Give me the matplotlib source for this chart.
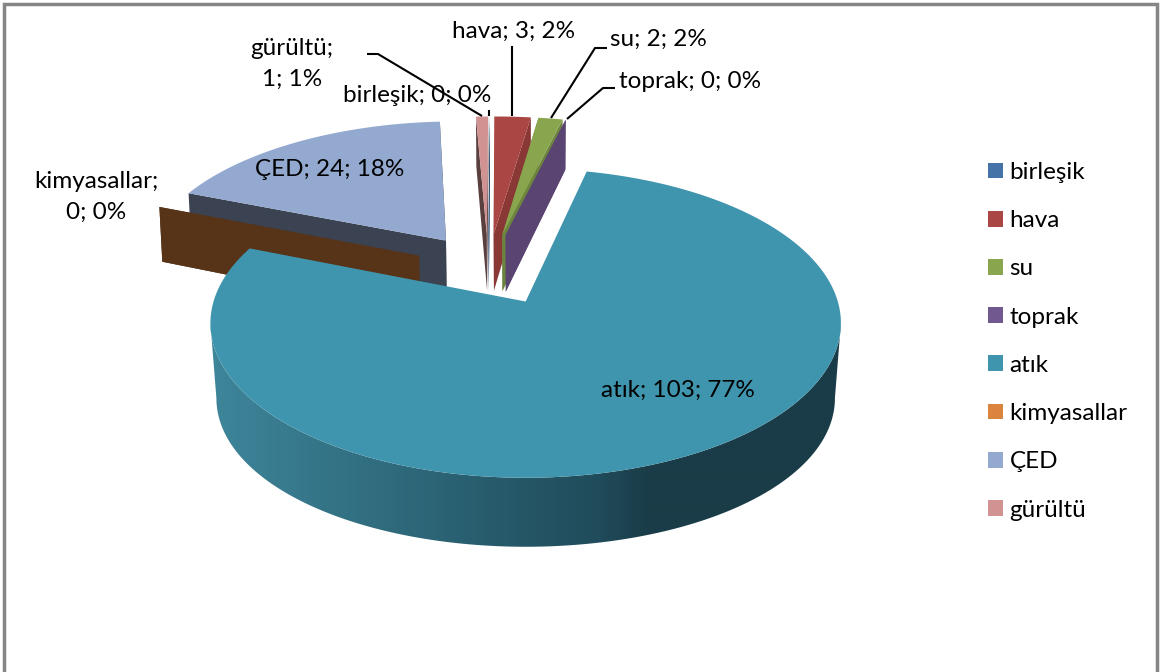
import matplotlib
matplotlib.use("Agg")
import matplotlib.pyplot as plt
from matplotlib.patches import Patch, Polygon
import numpy as np

categories = ["birleşik", "hava", "su", "toprak", "atık", "kimyasallar", "ÇED", "gürültü"]
values = [0, 3, 2, 0, 103, 0, 24, 1]

face_colors = ["#4572a7", "#aa4643", "#89a54e", "#71588f", "#4095ae", "#db843d", "#93a9cf", "#d19392"]
wall_colors = ["#2c4a6e", "#8a3836", "#6d843e", "#5a4472", "#2f6f84", "#573418", "#3b4252", "#5a3f3f"]
explode = [0.25, 0.25, 0.25, 0.25, 0.252, 0.25, 0.25, 0.25]
# small sideways correction of the slice tip, pie units
nudge = [0, 0, 0, 0, 0.0065, 0, 0, 0]

# label anchor (centre, pixels) per category
label_pos = [(417, 95), (514, 31), (658, 39), (690, 81), (678, 390), (96, 197), (330, 169), (292, 64)]
label_wrap = [False, False, False, False, False, True, False, True]

# leader lines, pixels
leaders = [
    [(489, 110), (489, 116)],
    [(512, 46), (512, 116)],
    [(607, 48), (595, 48), (551, 118)],
    [(615, 88), (603, 88), (567, 119)],
    [(367, 54), (378, 54), (482, 116)],
]

# pie geometry, fitted to the picture
X0, Y0 = 526, 301
A, B = 312, 151.4
PERSP = 0.14
DEPTH = 60
WALL_SHRINK = 0.992
RIM_SHRINK = 0.981
START = 90.7
BASE = np.array([-0.125, 0.2195])

plt.rcParams["font.family"] = ["Lato", "DejaVu Sans"]
FS = 17.5


def project(u, v):
    s = 1 / (1 + PERSP * np.asarray(v))
    return X0 + A * np.asarray(u) * s, Y0 - B * np.asarray(v) * s, DEPTH * s


def top_and_bottom(u, v):
    x, y, h = project(u, v)
    xb = X0 + (x - X0) * WALL_SHRINK
    return np.column_stack([x, y]), np.column_stack([xb, y + h])


fig = plt.figure(figsize=(11.61, 6.72), dpi=100)
ax = fig.add_axes([0, 0, 1, 1])
ax.axis("off")

total = sum(values)
sweeps = np.array(values) / total * 360
ends = START - np.cumsum(sweeps)
starts = ends + sweeps
slices = {}
for i in range(len(values)):
    mid = np.radians((starts[i] + ends[i]) / 2)
    tip = BASE + explode[i] * np.array([np.cos(mid), np.sin(mid)]) + np.array([nudge[i], 0])
    slices[i] = (tip, np.radians(starts[i]), np.radians(ends[i]))


def draw_wall(i, theta, z):
    tip = slices[i][0]
    u = np.array([tip[0], tip[0] + np.cos(theta)])
    v = np.array([tip[1], tip[1] + np.sin(theta)])
    top, bot = top_and_bottom(u, v)
    ax.add_patch(Polygon(np.vstack([top, bot[::-1]]), closed=True, fc=wall_colors[i], ec="none", zorder=z))


def draw_face(i, z):
    tip, a0, a1 = slices[i]
    th = np.linspace(a0, a1, 200)
    u = np.r_[tip[0], tip[0] + np.cos(th)]
    v = np.r_[tip[1], tip[1] + np.sin(th)]
    top, _ = top_and_bottom(u, v)
    ax.add_patch(Polygon(top, closed=True, fc=face_colors[i], ec="none", zorder=z))


# outer rim of the big slice, darkening to the right
shade_x = [210, 300, 450, 600, 650, 841]
shade_r = [62, 55, 42, 32, 26, 26]
shade_g = [134, 120, 98, 75, 60, 60]
shade_b = [155, 140, 115, 90, 72, 72]


def draw_rim(i, z):
    tip = slices[i][0]
    th = np.radians(np.linspace(188, 352, 400))
    x, y, _ = project(tip[0] + np.cos(th), tip[1] + np.sin(th))
    top = np.column_stack([x, y])
    # the lower edge sits a little deeper at the sides than at the front
    bot = np.column_stack([X0 + (x - X0) * RIM_SHRINK, y + 69 + 6 * np.cos(th) ** 2])
    clip = Polygon(np.vstack([top, bot[::-1]]), closed=True, transform=ax.transData, fc="none", ec="none")
    ax.add_patch(clip)
    xs = np.arange(200, 851)
    grad = np.column_stack([np.interp(xs, shade_x, shade_r),
                            np.interp(xs, shade_x, shade_g),
                            np.interp(xs, shade_x, shade_b)]) / 255
    im = ax.imshow(grad[np.newaxis, :, :], extent=(200, 851, 560, 300), aspect="auto",
                   interpolation="bilinear", zorder=z)
    im.set_clip_path(clip)


# back to front: ÇED, kimyasallar, gürültü, birleşik, hava, su, toprak, atık
order = [6, 5, 7, 0, 1, 2, 3, 4]
z = 2
for i in order:
    if i == 4:
        draw_rim(i, z)
    else:
        draw_wall(i, slices[i][1], z + 0.1)
        draw_wall(i, slices[i][2], z + 0.1)
    if values[i] > 0:
        draw_face(i, z + 0.2)
    z += 1

for pts in leaders:
    xs, ys = zip(*pts)
    ax.plot(xs, ys, color="black", lw=1.5, zorder=30, solid_capstyle="butt")

for i, cat in enumerate(categories):
    pct = values[i] / total * 100
    sep = ";\n" if label_wrap[i] else "; "
    txt = f"{cat}{sep}{values[i]}; {pct:.0f}%"
    ax.text(label_pos[i][0], label_pos[i][1], txt, ha="center", va="center",
            fontsize=FS, color="black", zorder=31, linespacing=1.55)

ax.set_xlim(0, 1161)
ax.set_ylim(672, 0)

handles = [Patch(fc=c, ec="none") for c in face_colors]
ax.legend(handles, categories, loc="upper left", bbox_to_anchor=(988 / 1161, 1 - 162 / 672),
          frameon=False, fontsize=FS, handlelength=0.62, handleheight=0.62,
          handletextpad=0.26, labelspacing=1.12, borderpad=0, borderaxespad=0)

# chart frame: no bottom edge in the crop
ax.plot([4, 4, 1157, 1157], [672, 4, 4, 672], color="#868686", lw=2.5, zorder=40, solid_joinstyle="miter")

fig.savefig("out.png", dpi=100)
